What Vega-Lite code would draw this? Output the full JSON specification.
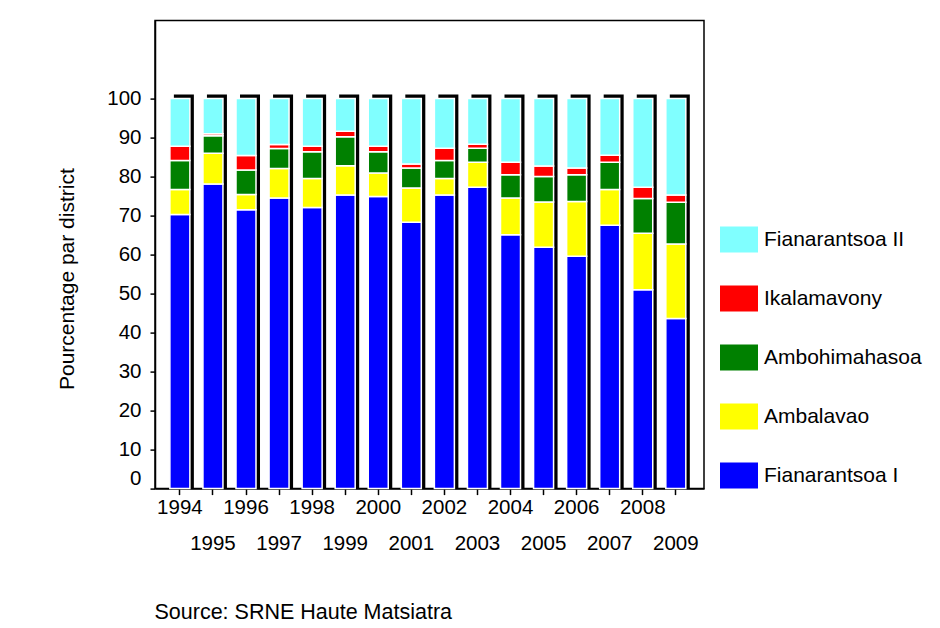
{
  "$schema": "https://vega.github.io/schema/vega-lite/v6.json",
  "width": 549,
  "height": 468,
  "autosize": {"type": "none"},
  "padding": {"left": 155, "top": 20.6, "right": 236, "bottom": 139.4},
  "background": "white",
  "config": {
    "font": "Liberation Sans",
    "view": {"stroke": "black", "strokeWidth": 1.5}
  },
  "data": {
    "values": [
      {"annee": 1994, "district": "Fianarantsoa I", "pct": 70.3, "ordre": 1},
      {"annee": 1994, "district": "Ambalavao", "pct": 6.4, "ordre": 2},
      {"annee": 1994, "district": "Ambohimahasoa", "pct": 7.4, "ordre": 3},
      {"annee": 1994, "district": "Ikalamavony", "pct": 3.7, "ordre": 4},
      {"annee": 1994, "district": "Fianarantsoa II", "pct": 12.2, "ordre": 5},
      {"annee": 1995, "district": "Fianarantsoa I", "pct": 78.1, "ordre": 1},
      {"annee": 1995, "district": "Ambalavao", "pct": 7.9, "ordre": 2},
      {"annee": 1995, "district": "Ambohimahasoa", "pct": 4.5, "ordre": 3},
      {"annee": 1995, "district": "Ikalamavony", "pct": 0.5, "ordre": 4},
      {"annee": 1995, "district": "Fianarantsoa II", "pct": 9.0, "ordre": 5},
      {"annee": 1996, "district": "Fianarantsoa I", "pct": 71.5, "ordre": 1},
      {"annee": 1996, "district": "Ambalavao", "pct": 3.9, "ordre": 2},
      {"annee": 1996, "district": "Ambohimahasoa", "pct": 6.3, "ordre": 3},
      {"annee": 1996, "district": "Ikalamavony", "pct": 3.7, "ordre": 4},
      {"annee": 1996, "district": "Fianarantsoa II", "pct": 14.6, "ordre": 5},
      {"annee": 1997, "district": "Fianarantsoa I", "pct": 74.5, "ordre": 1},
      {"annee": 1997, "district": "Ambalavao", "pct": 7.6, "ordre": 2},
      {"annee": 1997, "district": "Ambohimahasoa", "pct": 5.1, "ordre": 3},
      {"annee": 1997, "district": "Ikalamavony", "pct": 1.0, "ordre": 4},
      {"annee": 1997, "district": "Fianarantsoa II", "pct": 11.8, "ordre": 5},
      {"annee": 1998, "district": "Fianarantsoa I", "pct": 72.1, "ordre": 1},
      {"annee": 1998, "district": "Ambalavao", "pct": 7.4, "ordre": 2},
      {"annee": 1998, "district": "Ambohimahasoa", "pct": 6.9, "ordre": 3},
      {"annee": 1998, "district": "Ikalamavony", "pct": 1.4, "ordre": 4},
      {"annee": 1998, "district": "Fianarantsoa II", "pct": 12.2, "ordre": 5},
      {"annee": 1999, "district": "Fianarantsoa I", "pct": 75.3, "ordre": 1},
      {"annee": 1999, "district": "Ambalavao", "pct": 7.5, "ordre": 2},
      {"annee": 1999, "district": "Ambohimahasoa", "pct": 7.4, "ordre": 3},
      {"annee": 1999, "district": "Ikalamavony", "pct": 1.4, "ordre": 4},
      {"annee": 1999, "district": "Fianarantsoa II", "pct": 8.4, "ordre": 5},
      {"annee": 2000, "district": "Fianarantsoa I", "pct": 74.9, "ordre": 1},
      {"annee": 2000, "district": "Ambalavao", "pct": 6.0, "ordre": 2},
      {"annee": 2000, "district": "Ambohimahasoa", "pct": 5.5, "ordre": 3},
      {"annee": 2000, "district": "Ikalamavony", "pct": 1.4, "ordre": 4},
      {"annee": 2000, "district": "Fianarantsoa II", "pct": 12.2, "ordre": 5},
      {"annee": 2001, "district": "Fianarantsoa I", "pct": 68.3, "ordre": 1},
      {"annee": 2001, "district": "Ambalavao", "pct": 8.8, "ordre": 2},
      {"annee": 2001, "district": "Ambohimahasoa", "pct": 5.1, "ordre": 3},
      {"annee": 2001, "district": "Ikalamavony", "pct": 1.0, "ordre": 4},
      {"annee": 2001, "district": "Fianarantsoa II", "pct": 16.8, "ordre": 5},
      {"annee": 2002, "district": "Fianarantsoa I", "pct": 75.3, "ordre": 1},
      {"annee": 2002, "district": "Ambalavao", "pct": 4.2, "ordre": 2},
      {"annee": 2002, "district": "Ambohimahasoa", "pct": 4.6, "ordre": 3},
      {"annee": 2002, "district": "Ikalamavony", "pct": 3.2, "ordre": 4},
      {"annee": 2002, "district": "Fianarantsoa II", "pct": 12.7, "ordre": 5},
      {"annee": 2003, "district": "Fianarantsoa I", "pct": 77.3, "ordre": 1},
      {"annee": 2003, "district": "Ambalavao", "pct": 6.4, "ordre": 2},
      {"annee": 2003, "district": "Ambohimahasoa", "pct": 3.6, "ordre": 3},
      {"annee": 2003, "district": "Ikalamavony", "pct": 1.0, "ordre": 4},
      {"annee": 2003, "district": "Fianarantsoa II", "pct": 11.7, "ordre": 5},
      {"annee": 2004, "district": "Fianarantsoa I", "pct": 65.1, "ordre": 1},
      {"annee": 2004, "district": "Ambalavao", "pct": 9.4, "ordre": 2},
      {"annee": 2004, "district": "Ambohimahasoa", "pct": 6.0, "ordre": 3},
      {"annee": 2004, "district": "Ikalamavony", "pct": 3.2, "ordre": 4},
      {"annee": 2004, "district": "Fianarantsoa II", "pct": 16.3, "ordre": 5},
      {"annee": 2005, "district": "Fianarantsoa I", "pct": 61.9, "ordre": 1},
      {"annee": 2005, "district": "Ambalavao", "pct": 11.6, "ordre": 2},
      {"annee": 2005, "district": "Ambohimahasoa", "pct": 6.5, "ordre": 3},
      {"annee": 2005, "district": "Ikalamavony", "pct": 2.7, "ordre": 4},
      {"annee": 2005, "district": "Fianarantsoa II", "pct": 17.3, "ordre": 5},
      {"annee": 2006, "district": "Fianarantsoa I", "pct": 59.6, "ordre": 1},
      {"annee": 2006, "district": "Ambalavao", "pct": 14.0, "ordre": 2},
      {"annee": 2006, "district": "Ambohimahasoa", "pct": 6.9, "ordre": 3},
      {"annee": 2006, "district": "Ikalamavony", "pct": 1.7, "ordre": 4},
      {"annee": 2006, "district": "Fianarantsoa II", "pct": 17.8, "ordre": 5},
      {"annee": 2007, "district": "Fianarantsoa I", "pct": 67.5, "ordre": 1},
      {"annee": 2007, "district": "Ambalavao", "pct": 9.2, "ordre": 2},
      {"annee": 2007, "district": "Ambohimahasoa", "pct": 7.0, "ordre": 3},
      {"annee": 2007, "district": "Ikalamavony", "pct": 1.8, "ordre": 4},
      {"annee": 2007, "district": "Fianarantsoa II", "pct": 14.5, "ordre": 5},
      {"annee": 2008, "district": "Fianarantsoa I", "pct": 51.0, "ordre": 1},
      {"annee": 2008, "district": "Ambalavao", "pct": 14.5, "ordre": 2},
      {"annee": 2008, "district": "Ambohimahasoa", "pct": 8.9, "ordre": 3},
      {"annee": 2008, "district": "Ikalamavony", "pct": 2.9, "ordre": 4},
      {"annee": 2008, "district": "Fianarantsoa II", "pct": 22.7, "ordre": 5},
      {"annee": 2009, "district": "Fianarantsoa I", "pct": 43.6, "ordre": 1},
      {"annee": 2009, "district": "Ambalavao", "pct": 19.1, "ordre": 2},
      {"annee": 2009, "district": "Ambohimahasoa", "pct": 10.7, "ordre": 3},
      {"annee": 2009, "district": "Ikalamavony", "pct": 1.9, "ordre": 4},
      {"annee": 2009, "district": "Fianarantsoa II", "pct": 24.7, "ordre": 5}
    ]
  },
  "encoding": {
    "x": {
      "field": "annee",
      "type": "ordinal",
      "scale": {"paddingInner": 0.395, "paddingOuter": 0.5, "align": 0.45},
      "axis": {
        "title": "Source: SRNE Haute Matsiatra",
        "titleFontSize": 21.5,
        "titleFontWeight": "normal",
        "titleColor": "black",
        "titleAnchor": "start",
        "titleAlign": "left",
        "titleBaseline": "alphabetic",
        "titleX": -1,
        "titleY": 129.4,
        "labelAngle": 0,
        "labelFontSize": 20.5,
        "labelColor": "black",
        "labelOverlap": false,
        "labelBound": false,
        "labelFlush": false,
        "labelBaseline": "top",
        "labelPadding": {"condition": {"test": "datum.value % 2 == 1", "value": 39}, "value": 3},
        "tickSize": 6,
        "tickColor": "black",
        "tickWidth": 1.5,
        "domainColor": "black",
        "domainWidth": 1.5,
        "grid": false
      }
    }
  },
  "layer": [
    {
      "mark": {"type": "bar", "color": "black", "xOffset": 4, "yOffset": -4, "y2Offset": -4},
      "encoding": {
        "y": {
          "aggregate": "sum",
          "field": "pct",
          "type": "quantitative",
          "scale": {"domain": [0, 120], "nice": false},
          "axis": {
            "title": "Pourcentage par district",
            "titleFontSize": 21,
            "titleFontWeight": "normal",
            "titleColor": "black",
            "titleX": -88,
            "titleY": 258,
            "titleBaseline": "middle",
            "titleAlign": "center",
            "values": [0, 10, 20, 30, 40, 50, 60, 70, 80, 90, 100],
            "labelFontSize": 20.5,
            "labelColor": "black",
            "labelPadding": 9,
            "labelBaseline": {"condition": {"test": "datum.value == 0", "value": "bottom"}, "value": "middle"},
            "tickSize": 5,
            "tickColor": "black",
            "tickWidth": 1.5,
            "domainColor": "black",
            "domainWidth": 1.5,
            "grid": false
          }
        }
      }
    },
    {
      "mark": {"type": "bar", "stroke": "white", "strokeWidth": 1.5},
      "encoding": {
        "y": {
          "field": "pct",
          "type": "quantitative",
          "stack": "zero",
          "scale": {"domain": [0, 120], "nice": false},
          "axis": {
            "title": "Pourcentage par district",
            "titleFontSize": 21,
            "titleFontWeight": "normal",
            "titleColor": "black",
            "titleX": -88,
            "titleY": 258,
            "titleBaseline": "middle",
            "titleAlign": "center",
            "values": [0, 10, 20, 30, 40, 50, 60, 70, 80, 90, 100],
            "labelFontSize": 20.5,
            "labelColor": "black",
            "labelPadding": 9,
            "labelBaseline": {"condition": {"test": "datum.value == 0", "value": "bottom"}, "value": "middle"},
            "tickSize": 5,
            "tickColor": "black",
            "tickWidth": 1.5,
            "domainColor": "black",
            "domainWidth": 1.5,
            "grid": false
          }
        },
        "color": {
          "field": "district",
          "type": "nominal",
          "scale": {
            "domain": ["Fianarantsoa II", "Ikalamavony", "Ambohimahasoa", "Ambalavao", "Fianarantsoa I"],
            "range": ["#80FFFF", "#FF0000", "#008000", "#FFFF00", "#0000FF"]
          },
          "legend": {
            "title": null,
            "orient": "none",
            "legendX": 565,
            "legendY": 200,
            "symbolType": "M-1,-0.684H1V0.684H-1Z",
            "symbolSize": 1444,
            "symbolStrokeWidth": 0,
            "symbolOpacity": 1,
            "labelFontSize": 21,
            "labelColor": "black",
            "labelOffset": 6,
            "labelLimit": 300,
            "rowPadding": 27
          }
        },
        "order": {"field": "ordre", "type": "quantitative"}
      }
    }
  ]
}
